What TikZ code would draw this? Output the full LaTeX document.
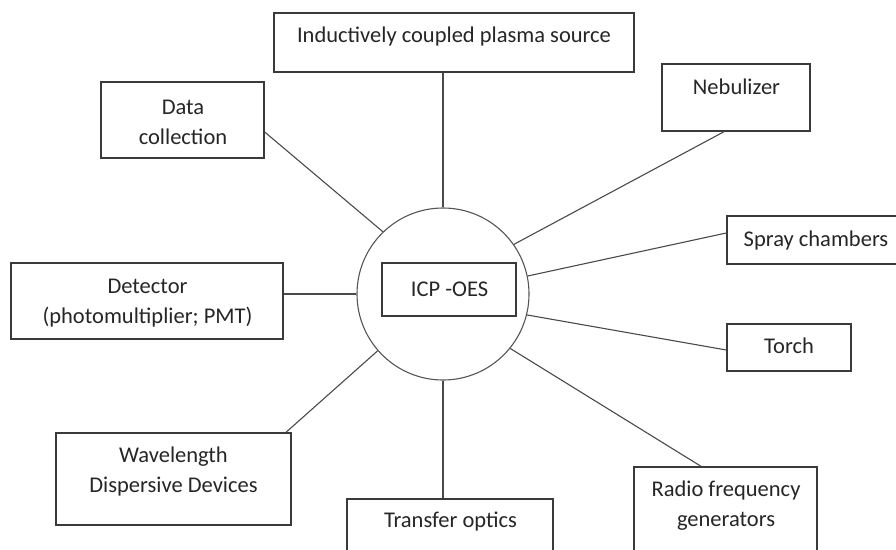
\documentclass[tikz,border=0pt]{standalone}
\usepackage{fontspec}
\setmainfont{Carlito}
\definecolor{boxc}{HTML}{3A3A3A}
\definecolor{linec}{HTML}{4A4A4A}
\definecolor{circc}{HTML}{555555}
\begin{document}
\begin{tikzpicture}[x=1pt,y=-1pt,
  box/.style={draw=boxc, line width=1.4pt, inner sep=0pt, fill=white},
  hub/.style={circle, draw=circc, line width=1.1pt, inner sep=0pt, minimum size=172pt},
  txt/.style={font=\fontsize{22.5}{30}\selectfont, align=center, inner sep=0pt, text=black!85},
  link/.style={draw=linec, line width=1.1pt}]
\useasboundingbox (0,0) rectangle (896,549);
\fill[white] (0,0) rectangle (896,549);
\clip (0,0) rectangle (896,549);

% hub
\node[hub] (icp) at (443,294) {};
\node[box, minimum width=134pt, minimum height=53pt] (icpbox) at (449,289.5) {};
\node[txt] (icpt) at (449.5,289) {ICP -OES};

% boxes
\node[box, minimum width=360pt, minimum height=59pt] (ind) at (454,42.5) {};
\node[txt] (indt) at (454,36) {Inductively coupled plasma source};

\node[box, minimum width=163pt, minimum height=76pt] (data) at (182.5,120) {};
\node[txt] (datat) at (183,122) {Data\\collection};

\node[box, minimum width=148pt, minimum height=67pt] (neb) at (736,97.5) {};
\node[txt] (nebt) at (736.5,87) {Nebulizer};

\node[box, minimum width=178pt, minimum height=48pt] (spray) at (816,240) {};
\node[txt] (sprayt) at (816,240) {Spray chambers};

\node[box, minimum width=124pt, minimum height=47pt] (torch) at (789,347.5) {};
\node[txt] (torcht) at (789,346) {Torch};

\node[box, minimum width=183pt, minimum height=108pt] (radio) at (725.5,521) {};
\node[txt] (radiot) at (726,505.5) {Radio frequency\\generators};

\node[box, minimum width=206pt, minimum height=76pt] (trans) at (450,537) {};
\node[txt] (transt) at (450.5,522) {Transfer optics};

\node[box, minimum width=235pt, minimum height=92pt] (wave) at (173.5,479) {};
\node[txt] (wavet) at (173.5,471) {Wavelength\\Dispersive Devices};

\node[box, minimum width=272pt, minimum height=76pt] (det) at (147,301) {};
\node[txt] (dett) at (147.5,303) {Detector\\(photomultiplier; PMT)};

% connectors
\draw[link] (icp.90) -- (icp.90 |- ind.south);
\draw[link] (icp.134) -- (data.east |- 0,132);
\draw[link] (icp.35.5) -- (neb.south -| 724,0);
\draw[link] (icp.12) -- (spray.west |- 0,233);
\draw[link] (icp.-14) -- (torch.west |- 0,350);
\draw[link] (icp.-39) -- (radio.north -| 701,0);
\draw[link] (icp.-90) -- (icp.-90 |- trans.north);
\draw[link] (icp.221) -- (wave.north -| 286,0);
\draw[link] (icp.180) -- (det.east |- icp.180);
\end{tikzpicture}
\end{document}
